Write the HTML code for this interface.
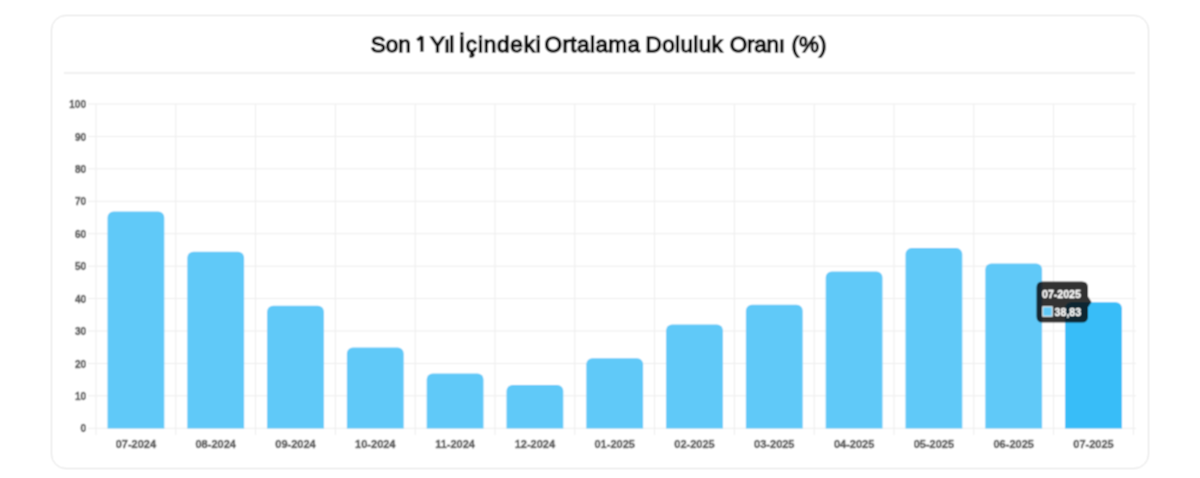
<!DOCTYPE html>
<html><head><meta charset="utf-8"><style>
#wrap{position:absolute;left:0;top:0;width:1200px;height:478px;filter:url(#soft)}
html,body{margin:0;padding:0;background:#fff;width:1200px;height:478px;overflow:hidden;position:relative}
.card{position:absolute;left:51px;top:15px;width:1096px;height:452px;border:1px solid #e2e2e2;box-shadow:0 0 2px rgba(0,0,0,0.04);border-radius:15px;background:#fff;box-sizing:content-box}
.sep{position:absolute;left:64px;top:72px;width:1071px;height:1.5px;background:#f0f0f0}
</style></head><body><svg width="0" height="0" style="position:absolute;left:0;top:0"><filter id="soft" x="0" y="0" width="100%" height="100%" filterUnits="userSpaceOnUse"><feConvolveMatrix order="3" kernelMatrix="1 2 1 2 4 2 1 2 1" divisor="16" edgeMode="duplicate" preserveAlpha="false"/></filter></svg><div id="wrap">
<div class="card"></div>
<div class="sep"></div>
<svg width="1200" height="478" viewBox="0 0 1200 478" style="position:absolute;left:0;top:0">
<g stroke="#ededed" stroke-width="1"><line x1="88" y1="428.30" x2="1136" y2="428.30"/><line x1="88" y1="395.87" x2="1136" y2="395.87"/><line x1="88" y1="363.44" x2="1136" y2="363.44"/><line x1="88" y1="331.01" x2="1136" y2="331.01"/><line x1="88" y1="298.58" x2="1136" y2="298.58"/><line x1="88" y1="266.15" x2="1136" y2="266.15"/><line x1="88" y1="233.72" x2="1136" y2="233.72"/><line x1="88" y1="201.29" x2="1136" y2="201.29"/><line x1="88" y1="168.86" x2="1136" y2="168.86"/><line x1="88" y1="136.43" x2="1136" y2="136.43"/><line x1="88" y1="104.00" x2="1136" y2="104.00"/><line x1="96.00" y1="104" x2="96.00" y2="435"/><line x1="175.80" y1="104" x2="175.80" y2="435"/><line x1="255.60" y1="104" x2="255.60" y2="435"/><line x1="335.40" y1="104" x2="335.40" y2="435"/><line x1="415.20" y1="104" x2="415.20" y2="435"/><line x1="495.00" y1="104" x2="495.00" y2="435"/><line x1="574.80" y1="104" x2="574.80" y2="435"/><line x1="654.60" y1="104" x2="654.60" y2="435"/><line x1="734.40" y1="104" x2="734.40" y2="435"/><line x1="814.20" y1="104" x2="814.20" y2="435"/><line x1="894.00" y1="104" x2="894.00" y2="435"/><line x1="973.80" y1="104" x2="973.80" y2="435"/><line x1="1053.60" y1="104" x2="1053.60" y2="435"/><line x1="1133.40" y1="104" x2="1133.40" y2="435"/></g>
<g font-family="Liberation Sans, sans-serif" font-size="22.5" fill="#0d0d0d" stroke="#0d0d0d" stroke-width="1.3"><text x="370.75" y="52" letter-spacing="-0.02">Son</text><text x="430.10" y="52" letter-spacing="-1.0">Yıl</text><text x="458.80" y="52" letter-spacing="0.8">İçindeki</text><text x="544.50" y="52" letter-spacing="0.43">Ortalama</text><text x="645.50" y="52" letter-spacing="0.38">Doluluk</text><text x="729.80" y="52" letter-spacing="-0.26">Oranı</text><text x="791.50" y="52" letter-spacing="0.0">(%)</text></g><path d="M421.9,36.3 V51.7 M421.9,36.6 L417.2,40.3" stroke="#0d0d0d" stroke-width="3.2" fill="none" stroke-linecap="butt"/>
<path fill="#60c9f8" d="M107.50,428.5 V217.40 A6,6 0 0 1 113.50,211.40 H158.30 A6,6 0 0 1 164.30,217.40 V428.5 Z"/><path fill="#60c9f8" d="M187.30,428.5 V257.70 A6,6 0 0 1 193.30,251.70 H238.10 A6,6 0 0 1 244.10,257.70 V428.5 Z"/><path fill="#60c9f8" d="M267.10,428.5 V311.65 A6,6 0 0 1 273.10,305.65 H317.90 A6,6 0 0 1 323.90,311.65 V428.5 Z"/><path fill="#60c9f8" d="M346.90,428.5 V353.57 A6,6 0 0 1 352.90,347.57 H397.70 A6,6 0 0 1 403.70,353.57 V428.5 Z"/><path fill="#60c9f8" d="M426.70,428.5 V379.57 A6,6 0 0 1 432.70,373.57 H477.50 A6,6 0 0 1 483.50,379.57 V428.5 Z"/><path fill="#60c9f8" d="M506.50,428.5 V391.11 A6,6 0 0 1 512.50,385.11 H557.30 A6,6 0 0 1 563.30,391.11 V428.5 Z"/><path fill="#60c9f8" d="M586.30,428.5 V364.30 A6,6 0 0 1 592.30,358.30 H637.10 A6,6 0 0 1 643.10,364.30 V428.5 Z"/><path fill="#60c9f8" d="M666.10,428.5 V330.50 A6,6 0 0 1 672.10,324.50 H716.90 A6,6 0 0 1 722.90,330.50 V428.5 Z"/><path fill="#60c9f8" d="M745.90,428.5 V310.68 A6,6 0 0 1 751.90,304.68 H796.70 A6,6 0 0 1 802.70,310.68 V428.5 Z"/><path fill="#60c9f8" d="M825.70,428.5 V277.52 A6,6 0 0 1 831.70,271.52 H876.50 A6,6 0 0 1 882.50,277.52 V428.5 Z"/><path fill="#60c9f8" d="M905.50,428.5 V254.12 A6,6 0 0 1 911.50,248.12 H956.30 A6,6 0 0 1 962.30,254.12 V428.5 Z"/><path fill="#60c9f8" d="M985.30,428.5 V269.40 A6,6 0 0 1 991.30,263.40 H1036.10 A6,6 0 0 1 1042.10,269.40 V428.5 Z"/><path fill="#38bdf8" d="M1065.10,428.5 V308.30 A6,6 0 0 1 1071.10,302.30 H1115.90 A6,6 0 0 1 1121.90,308.30 V428.5 Z"/>
<g font-family="Liberation Sans, sans-serif" font-size="10" font-weight="bold" fill="#5e5e5e" stroke="#5e5e5e" stroke-width="0.45"><text x="86" y="432.40" text-anchor="end">0</text><text x="86" y="399.97" text-anchor="end">10</text><text x="86" y="367.54" text-anchor="end">20</text><text x="86" y="335.11" text-anchor="end">30</text><text x="86" y="302.68" text-anchor="end">40</text><text x="86" y="270.25" text-anchor="end">50</text><text x="86" y="237.82" text-anchor="end">60</text><text x="86" y="205.39" text-anchor="end">70</text><text x="86" y="172.96" text-anchor="end">80</text><text x="86" y="140.53" text-anchor="end">90</text><text x="86" y="108.10" text-anchor="end">100</text></g>
<g font-family="Liberation Sans, sans-serif" font-size="11" font-weight="bold" fill="#5e5e5e" stroke="#5e5e5e" stroke-width="0.45"><text x="135.90" y="448" text-anchor="middle">07-2024</text><text x="215.70" y="448" text-anchor="middle">08-2024</text><text x="295.50" y="448" text-anchor="middle">09-2024</text><text x="375.30" y="448" text-anchor="middle">10-2024</text><text x="455.10" y="448" text-anchor="middle">11-2024</text><text x="534.90" y="448" text-anchor="middle">12-2024</text><text x="614.70" y="448" text-anchor="middle">01-2025</text><text x="694.50" y="448" text-anchor="middle">02-2025</text><text x="774.30" y="448" text-anchor="middle">03-2025</text><text x="854.10" y="448" text-anchor="middle">04-2025</text><text x="933.90" y="448" text-anchor="middle">05-2025</text><text x="1013.70" y="448" text-anchor="middle">06-2025</text><text x="1093.50" y="448" text-anchor="middle">07-2025</text></g>
<g>
<path fill="rgba(0,0,0,0.8)" d="M1042.5,281.5 H1082 Q1088,281.5 1088,287.5 V296.5 L1091.5,301.9 L1088,307.3 V316.6 Q1088,322.6 1082,322.6 H1042.5 Q1036.5,322.6 1036.5,316.6 V287.5 Q1036.5,281.5 1042.5,281.5 Z"/>
<text x="1042" y="297.5" font-family="Liberation Sans, sans-serif" font-size="10.6" font-weight="bold" fill="#fff" stroke="#fff" stroke-width="0.3">07-2025</text>
<rect x="1042.8" y="306.8" width="9.4" height="9.4" fill="#60c9f8" stroke="#fff" stroke-width="1"/>
<text x="1054.6" y="315.6" font-family="Liberation Sans, sans-serif" font-size="10.6" font-weight="bold" fill="#fff" stroke="#fff" stroke-width="0.3">38,83</text>
</g>
</svg>
</div></body></html>
